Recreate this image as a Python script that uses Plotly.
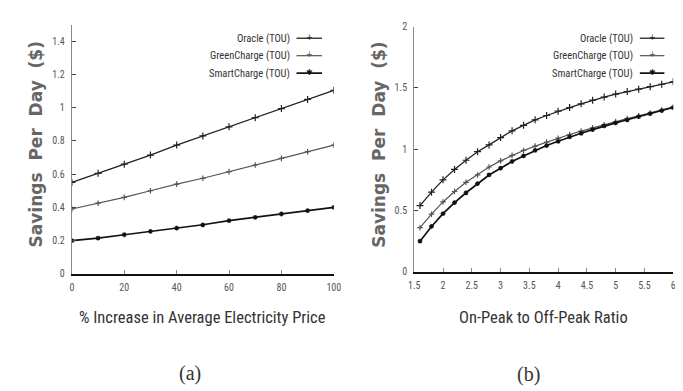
import plotly.graph_objects as go

# ---------------- data ----------------
series_names = ["Oracle (TOU)", "GreenCharge (TOU)", "SmartCharge (TOU)"]

# (a) % increase in average electricity price
pct_increase = [0, 10, 20, 30, 40, 50, 60, 70, 80, 90, 100]
oracle_a = [0.55, 0.605, 0.66, 0.715, 0.775, 0.83, 0.885, 0.94, 0.995, 1.05, 1.105]
green_a = [0.39, 0.425, 0.46, 0.50, 0.54, 0.575, 0.615, 0.655, 0.695, 0.735, 0.775]
smart_a = [0.20, 0.215, 0.235, 0.255, 0.275, 0.295, 0.32, 0.34, 0.36, 0.38, 0.40]

# (b) on-peak to off-peak ratio
ratio = [1.6, 1.8, 2.0, 2.2, 2.4, 2.6, 2.8, 3.0, 3.2, 3.4, 3.6, 3.8,
         4.0, 4.2, 4.4, 4.6, 4.8, 5.0, 5.2, 5.4, 5.6, 5.8, 6.0]
oracle_b = [0.54, 0.65, 0.75, 0.835, 0.91, 0.98, 1.035, 1.095, 1.15, 1.195, 1.24, 1.275,
            1.31, 1.34, 1.37, 1.40, 1.425, 1.45, 1.47, 1.49, 1.51, 1.53, 1.55]
green_b = [0.36, 0.47, 0.57, 0.655, 0.73, 0.79, 0.855, 0.905, 0.95, 0.99, 1.025, 1.058,
           1.09, 1.12, 1.148, 1.175, 1.20, 1.225, 1.25, 1.272, 1.295, 1.32, 1.345]
smart_b = [0.25, 0.37, 0.475, 0.565, 0.645, 0.72, 0.79, 0.845, 0.9, 0.945, 0.99, 1.03,
           1.065, 1.10, 1.13, 1.16, 1.19, 1.215, 1.24, 1.265, 1.29, 1.315, 1.34]

xticks_a = [0, 20, 40, 60, 80, 100]
yticks_a = [0, 0.2, 0.4, 0.6, 0.8, 1, 1.2, 1.4]
ytick_labels_a = ["0", "0.2", "0.4", "0.6", "0.8", "1", "1.2", "1.4"]
xticks_b = [1.5, 2, 2.5, 3, 3.5, 4, 4.5, 5, 5.5, 6]
xtick_labels_b = ["1.5", "2", "2.5", "3", "3.5", "4", "4.5", "5", "5.5", "6"]
yticks_b = [0, 0.5, 1, 1.5, 2]
ytick_labels_b = ["0", "0.5", "1", "1.5", "2"]

# ---------------- style ----------------
W, H = 683, 391
NARROW = "Liberation Sans Narrow, Arial Narrow, Roboto Condensed, sans-serif"
styles = [
    dict(symbol="cross-thin", size=5, color="#222", width=1.3),
    dict(symbol="cross-thin", size=4, color="#555", width=1.2),
    dict(symbol="asterisk", size=4, color="#111", width=1.7),
]

fig = go.Figure()

def add_panel(x, ys, xa, ya):
    for name, y, st in zip(series_names, ys, styles):
        fig.add_trace(go.Scatter(
            x=x, y=y, mode="lines+markers", name=name, showlegend=False,
            xaxis=xa, yaxis=ya,
            line=dict(color=st["color"], width=st["width"]),
            marker=dict(symbol=st["symbol"], size=st["size"], color=st["color"],
                        line=dict(color=st["color"], width=1.2)),
        ))

add_panel(pct_increase, [oracle_a, green_a, smart_a], "x", "y")
add_panel(ratio, [oracle_b, green_b, smart_b], "x2", "y2")

tickfont = dict(family=NARROW, size=10, color="#555")
common_x = dict(showline=True, linecolor="#111", linewidth=2, ticks="inside",
                ticklen=4, tickcolor="#888", showgrid=False, zeroline=False,
                tickfont=tickfont, mirror=False, ticklabelstandoff=3,
                ticklabeloverflow="allow")
common_y = dict(showline=True, linecolor="#888", linewidth=1.2, ticks="inside",
                ticklen=4, tickcolor="#444", showgrid=False, zeroline=False,
                tickfont=tickfont, mirror=False, ticklabelstandoff=4,
                ticklabeloverflow="allow")

px = lambda v: v / W
py = lambda v: 1 - v / H

fig.update_layout(
    width=W, height=H, margin=dict(l=0, r=0, t=0, b=0),
    paper_bgcolor="white", plot_bgcolor="white", showlegend=False,
    xaxis=dict(domain=[px(59), px(326)], range=[0, 100], tickvals=xticks_a,
               anchor="y", **common_x),
    yaxis=dict(domain=[py(268), py(11)], range=[0, 1.5], tickvals=yticks_a,
               ticktext=ytick_labels_a, anchor="x", **common_y),
    xaxis2=dict(domain=[px(408), px(672)], range=[1.5, 6], tickvals=xticks_b,
                ticktext=xtick_labels_b, anchor="y2", **common_x),
    yaxis2=dict(domain=[py(266), py(13)], range=[0, 2], tickvals=yticks_b,
                ticktext=ytick_labels_b, anchor="x2", **common_y),
)

def note(text, x, y, size, family, color="#333", xanchor="center", **kw):
    return dict(text=text, x=px(x), y=py(y), xref="paper", yref="paper",
                xanchor=xanchor, yanchor="middle", showarrow=False,
                font=dict(family=family, size=size, color=color), **kw)

ann = []
ann.append(note("% Increase in Average Electricity Price", 192, 313, 16.5, NARROW))
ann.append(note("On-Peak to Off-Peak Ratio", 540, 313, 16.5, NARROW))
for xc in (22, 372):
    ann.append(note("<b>Savings  Per  Day  ($)</b>", xc, 135, 17, "DejaVu Sans",
                    color="#666", textangle=-90))
ann.append(note("(a)", 179, 371, 20, "Liberation Serif"))
ann.append(note("(b)", 524, 372, 20, "Liberation Serif"))

shapes = []
marker_chars = ["+", "+", "✱"]
for (tx, lx0, lx1, rows) in [(283, 288, 314, [25, 43, 61]), (633, 638, 663, [25, 43, 61])]:
    for name, row, st, mc in zip(series_names, rows, styles, marker_chars):
        ann.append(note(name, tx, row, 10.5, NARROW, xanchor="right"))
        shapes.append(dict(type="line", xref="paper", yref="paper",
                           x0=px(lx0), x1=px(lx1), y0=py(row), y1=py(row),
                           line=dict(color=st["color"], width=st["width"])))
        ann.append(note(mc, (lx0 + lx1) / 2, row, 8, "DejaVu Sans", color=st["color"],
                        yshift=1))

fig.update_layout(annotations=ann, shapes=shapes)
fig.write_html("out.html")
